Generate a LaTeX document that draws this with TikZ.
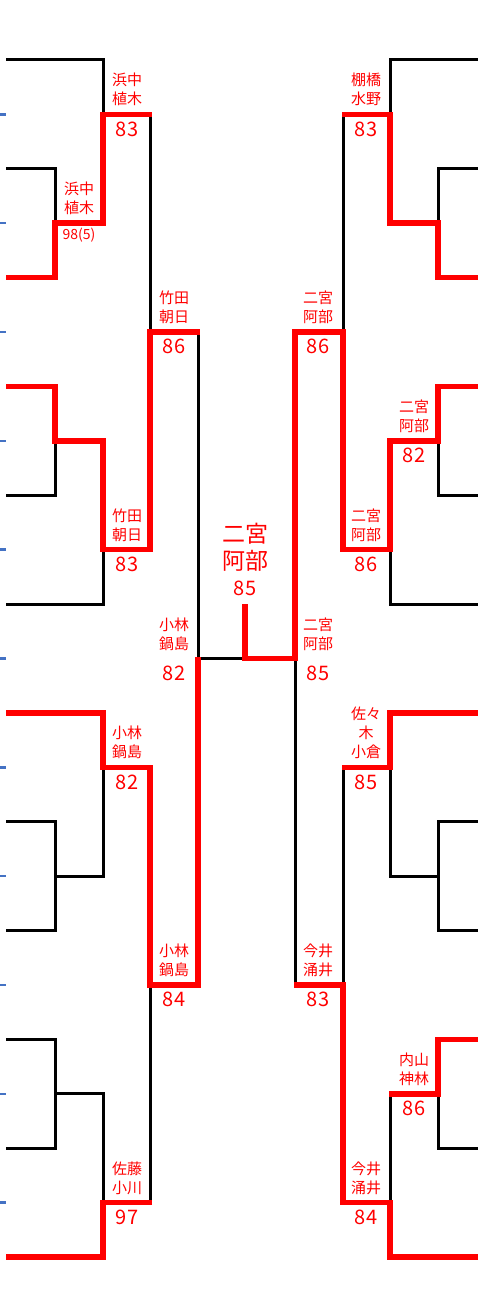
\documentclass[tikz,border=0pt]{standalone}
\usepackage{fontspec}
\setmainfont{Noto Sans CJK JP}
\usepackage{tikz}

\definecolor{tickblue}{HTML}{4472C4}
\tikzset{
  blk/.style={draw=black, line width=3pt},
  win/.style={draw=red, line width=5.5pt},
  teamlbl/.style={anchor=south, yshift=8pt, inner sep=0pt, text=red,
                  align=center, font=\fontsize{15}{19}\selectfont},
  scorelbl/.style={anchor=north, yshift=-7pt, inner sep=0pt, text=red,
                   font=\fontsize{20}{24}\selectfont},
}

\begin{document}
\begin{tikzpicture}[x=1pt, y=-54.41pt]
\useasboundingbox (0,-1.10274) rectangle (478,22.9921);

% blue marks at the left edge
\foreach \k in {1,3,...,21}
  \draw[tickblue, line width=2.5pt] (0,\k) -- (6,\k);

% black bracket, left half and mirrored right half
\foreach \ox/\sx in {0/1, 493/-1} {
\begin{scope}[xshift=\ox pt, xscale=\sx]
\draw[blk] (6,2) -| (55,4) -- (6,4);
\draw[blk] (6,0) -| (103,3) -- (55,3);
\draw[blk] (6,6) -| (55,8) -- (6,8);
\draw[blk] (6,10) -| (103,7) -- (55,7);
\draw[blk] (103,1) -| (150,9) -- (103,9);
\draw[blk] (6,12) -| (103,15) -- (55,15);
\draw[blk] (6,14) -| (55,16) -- (6,16);
\draw[blk] (6,18) -| (55,20) -- (6,20);
\draw[blk] (6,22) -| (103,19) -- (55,19);
\draw[blk] (103,13) -| (150,21) -- (103,21);
\draw[blk] (150,5) -| (198,17) -- (150,17);
\end{scope}
}
\draw[blk] (198,11) -- (295,11);

% winners (left)
\draw[win] (6,4) -- (55,4) -- (55,3) -- (103,3) -- (103,1) -- (151.5,1);
\draw[win] (6,6) -- (55,6) -- (55,7) -- (103,7) -- (103,9) -- (150,9)
           -- (150,5) -- (199.5,5);
\draw[win] (6,12) -- (103,12) -- (103,13) -- (150,13) -- (150,17)
           -- (198,17) -- (198,10.97);
\draw[win] (6,22) -- (103,22) -- (103,21) -- (151.5,21);

% winners (right)
\draw[win] (490,4) -- (438,4) -- (438,3) -- (390,3) -- (390,1) -- (341.5,1);
\draw[win] (490,6) -- (438,6) -- (438,7) -- (390,7) -- (390,9) -- (343,9)
           -- (343,5) -- (295,5) -- (295,11) -- (245,11) -- (245,10);
\draw[win] (490,12) -- (390,12) -- (390,13) -- (341.5,13);
\draw[win] (490,18) -- (438,18) -- (438,19) -- (388.5,19);
\draw[win] (490,22) -- (390,22) -- (390,21) -- (343,21) -- (343,17)
           -- (293.5,17);

% pair names and points
\foreach \x/\k/\t/\s [count=\i] in {
    127/1/{浜中\\植木}/83, 174/5/{竹田\\朝日}/86, 127/9/{竹田\\朝日}/83,
    174/11/{小林\\鍋島}/82, 127/13/{小林\\鍋島}/82, 174/17/{小林\\鍋島}/84,
    127/21/{佐藤\\小川}/97,
    366/1/{棚橋\\水野}/83, 318/5/{二宮\\阿部}/86, 414/7/{二宮\\阿部}/82,
    366/9/{二宮\\阿部}/86, 318/11/{二宮\\阿部}/85, 366/13/{佐々\\木\\小倉}/85,
    318/17/{今井\\涌井}/83, 414/19/{内山\\神林}/86, 366/21/{今井\\涌井}/84} {
  \node[teamlbl] (t\i) at (\x,\k) {\t};
  \node[scorelbl] (s\i) at (\x,\k) {\s};
}
\node[teamlbl] (t0) at (79,3) {浜中\\植木};
\node[scorelbl, yshift=2pt, font=\fontsize{14}{16}\selectfont] (s0) at (79,3) {98(5)};

% champion
\node[teamlbl, yshift=25pt, font=\fontsize{23}{27}\selectfont] (champ) at (245,10) {二宮\\阿部};
\node[scorelbl, anchor=south, yshift=15pt] (champpts) at (245,10) {85};
\end{tikzpicture}
\end{document}
